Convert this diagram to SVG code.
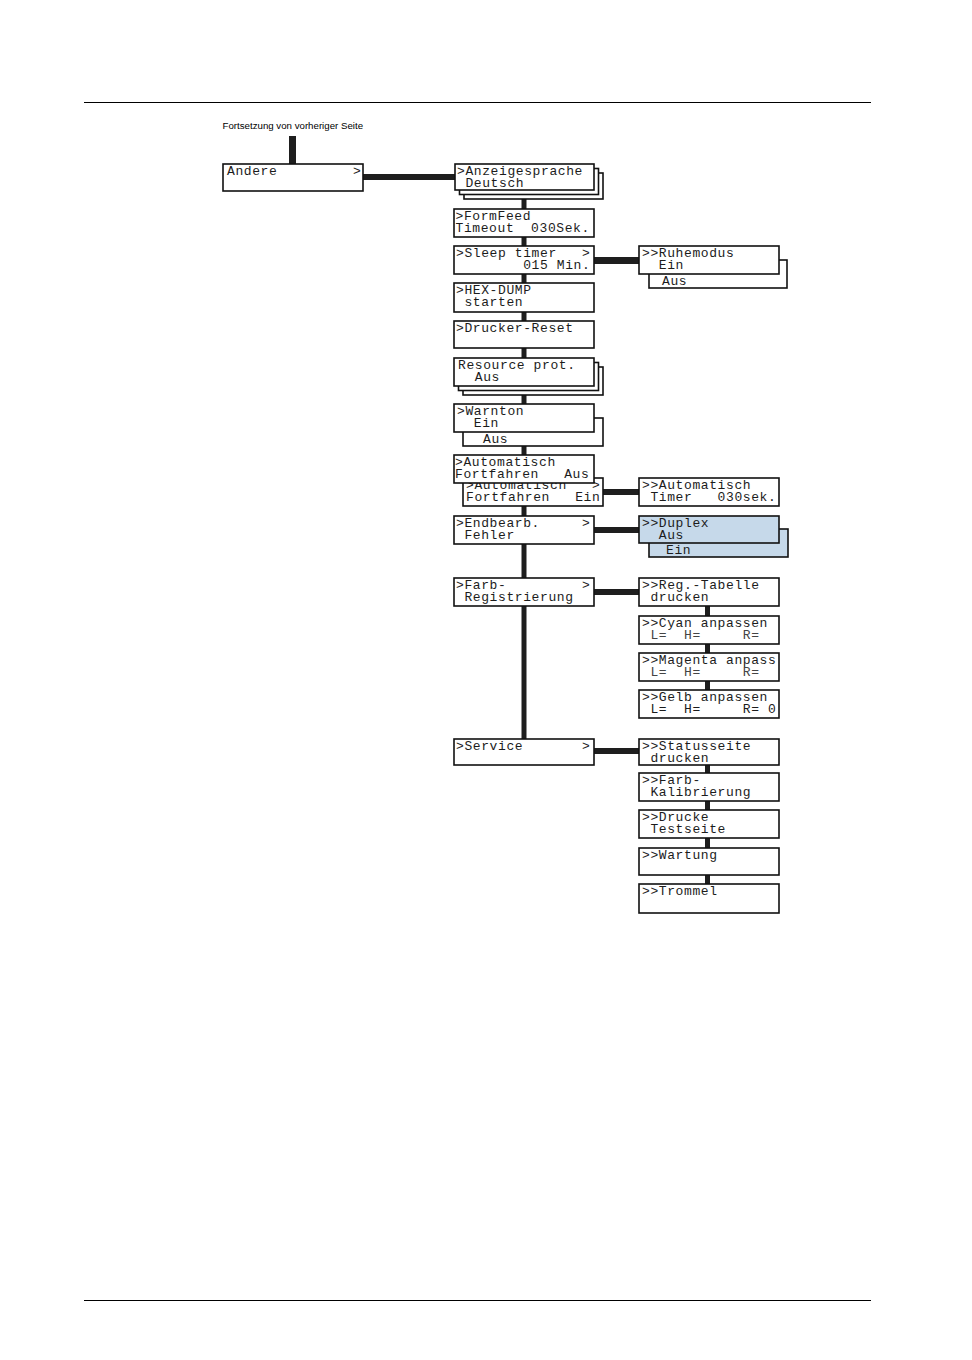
<svg xmlns="http://www.w3.org/2000/svg" width="972" height="1360" viewBox="0 0 972 1360">
<style>
.box{fill:#fff;stroke:#111;stroke-width:1.6}
.blue{fill:#c6d9ea;stroke:#111;stroke-width:1.6}
.t{font-family:"Liberation Mono","Courier New",monospace;font-size:13px;letter-spacing:0.6px;fill:#1c1c1c;white-space:pre}
.tl{fill:#444}
.c{fill:#1e1e1e}
.rule{stroke:#000;stroke-width:1.2}
.cap{font-family:"Liberation Sans",Arial,sans-serif;font-size:9.7px;fill:#000}
</style>
<line class="rule" x1="84" y1="102.5" x2="871" y2="102.5"/>
<line class="rule" x1="84" y1="1300.5" x2="871" y2="1300.5"/>
<text class="cap" x="222.5" y="128.5">Fortsetzung von vorheriger Seite</text>
<g id="connectors">
<rect class="c" x="289" y="136" width="7" height="28"/>
<rect class="c" x="363" y="174" width="92" height="6"/>
<rect class="c" x="521.5" y="190" width="5" height="549"/>
<rect class="c" x="594" y="257" width="45" height="7"/>
<rect class="c" x="603" y="489" width="36" height="6"/>
<rect class="c" x="594" y="527" width="45" height="6"/>
<rect class="c" x="594" y="589" width="45" height="6"/>
<rect class="c" x="594" y="748" width="45" height="6"/>
<rect class="c" x="705" y="606" width="5" height="84"/>
<rect class="c" x="705" y="765" width="5" height="119"/>
</g>
<g id="n-andere"><rect class="box" x="223" y="164" width="140" height="27"/><text class="t" x="227" y="175">Andere         &gt;</text></g>
<g id="n-anzeige"><rect class="box" x="464" y="173" width="139" height="26"/><rect class="box" x="459.5" y="168.5" width="139" height="26"/><rect class="box" x="455" y="164" width="139" height="26"/><text class="t" x="457" y="174.5">&gt;Anzeigesprache</text><text class="t" x="457" y="187"> Deutsch</text></g>
<g id="n-formfeed"><rect class="box" x="454" y="209" width="140" height="28"/><text class="t" x="455.5" y="219.5">&gt;FormFeed</text><text class="t" x="455.5" y="232">Timeout  030Sek.</text></g>
<g id="n-sleep"><rect class="box" x="454" y="246" width="140" height="28"/><text class="t" x="456" y="256.5">&gt;Sleep timer   &gt;</text><text class="t" x="456" y="269">        015 Min.</text></g>
<g id="n-hex"><rect class="box" x="454" y="283" width="140" height="29"/><text class="t" x="456" y="293.5">&gt;HEX-DUMP</text><text class="t" x="456" y="306"> starten</text></g>
<g id="n-reset"><rect class="box" x="454" y="321" width="140" height="27"/><text class="t" x="456" y="331.5">&gt;Drucker-Reset</text></g>
<g id="n-resource"><rect class="box" x="463" y="367" width="140" height="28"/><rect class="box" x="458.5" y="362.5" width="140" height="28"/><rect class="box" x="454" y="358" width="140" height="28"/><text class="t" x="458" y="368.5">Resource prot.</text><text class="t" x="458" y="381">  Aus</text></g>
<g id="n-warnton"><rect class="box" x="463" y="418" width="140" height="28"/><text class="t" x="483" y="443">Aus</text><rect class="box" x="454" y="404" width="140" height="28"/><text class="t" x="457" y="414.5">&gt;Warnton</text><text class="t" x="457" y="427">  Ein</text></g>
<g id="n-auto"><rect class="box" x="463" y="478" width="140" height="28"/><text class="t" x="466" y="489">&gt;Automatisch   &gt;</text><text class="t" x="466" y="501">Fortfahren   Ein</text><rect class="box" x="454" y="455" width="140" height="28"/><text class="t" x="455" y="465.5">&gt;Automatisch</text><text class="t" x="455" y="478">Fortfahren   Aus</text></g>
<g id="n-endbearb"><rect class="box" x="454" y="516" width="140" height="28"/><text class="t" x="456" y="526.5">&gt;Endbearb.     &gt;</text><text class="t" x="456" y="539"> Fehler</text></g>
<g id="n-farbreg"><rect class="box" x="454" y="578" width="140" height="28"/><text class="t" x="456" y="588.5">&gt;Farb-         &gt;</text><text class="t" x="456" y="601"> Registrierung</text></g>
<g id="n-service"><rect class="box" x="454" y="739" width="140" height="26"/><text class="t" x="456" y="749.5">&gt;Service       &gt;</text></g>
<g id="n-ruhe"><rect class="box" x="649" y="260" width="138" height="28"/><text class="t" x="662" y="285">Aus</text><rect class="box" x="639" y="246" width="140" height="28"/><text class="t" x="642" y="256.5">&gt;&gt;Ruhemodus</text><text class="t" x="642" y="269">  Ein</text></g>
<g id="n-timer"><rect class="box" x="639" y="478" width="140" height="28"/><text class="t" x="642" y="488.5">&gt;&gt;Automatisch</text><text class="t" x="642" y="501"> Timer   030sek.</text></g>
<g id="n-duplex"><rect class="blue" x="649" y="529" width="139" height="28"/><text class="t" x="666" y="554">Ein</text><rect class="blue" x="639" y="516" width="140" height="27"/><text class="t" x="642" y="526.5">&gt;&gt;Duplex</text><text class="t" x="642" y="539">  Aus</text></g>
<g id="n-regtab"><rect class="box" x="639" y="578" width="140" height="28"/><text class="t" x="642" y="588.5">&gt;&gt;Reg.-Tabelle</text><text class="t" x="642" y="601"> drucken</text></g>
<g id="n-cyan"><rect class="box" x="639" y="616" width="140" height="28"/><text class="t" x="642" y="626.5">&gt;&gt;Cyan anpassen</text><text class="t tl" x="642" y="639"> L=  H=     R=</text></g>
<g id="n-magenta"><rect class="box" x="639" y="653" width="140" height="28"/><text class="t" x="642" y="663.5">&gt;&gt;Magenta anpass</text><text class="t tl" x="642" y="676"> L=  H=     R=</text></g>
<g id="n-gelb"><rect class="box" x="639" y="690" width="140" height="28"/><text class="t" x="642" y="700.5">&gt;&gt;Gelb anpassen</text><text class="t" x="642" y="713"> L=  H=     R= 0</text></g>
<g id="n-status"><rect class="box" x="639" y="739" width="140" height="26"/><text class="t" x="642" y="749.5">&gt;&gt;Statusseite</text><text class="t" x="642" y="762"> drucken</text></g>
<g id="n-kalib"><rect class="box" x="639" y="773" width="140" height="28"/><text class="t" x="642" y="783.5">&gt;&gt;Farb-</text><text class="t" x="642" y="796"> Kalibrierung</text></g>
<g id="n-drucke"><rect class="box" x="639" y="810" width="140" height="28"/><text class="t" x="642" y="820.5">&gt;&gt;Drucke</text><text class="t" x="642" y="833"> Testseite</text></g>
<g id="n-wartung"><rect class="box" x="639" y="848" width="140" height="27"/><text class="t" x="642" y="858.5">&gt;&gt;Wartung</text></g>
<g id="n-trommel"><rect class="box" x="639" y="884" width="140" height="29"/><text class="t" x="642" y="894.5">&gt;&gt;Trommel</text></g>
</svg>
